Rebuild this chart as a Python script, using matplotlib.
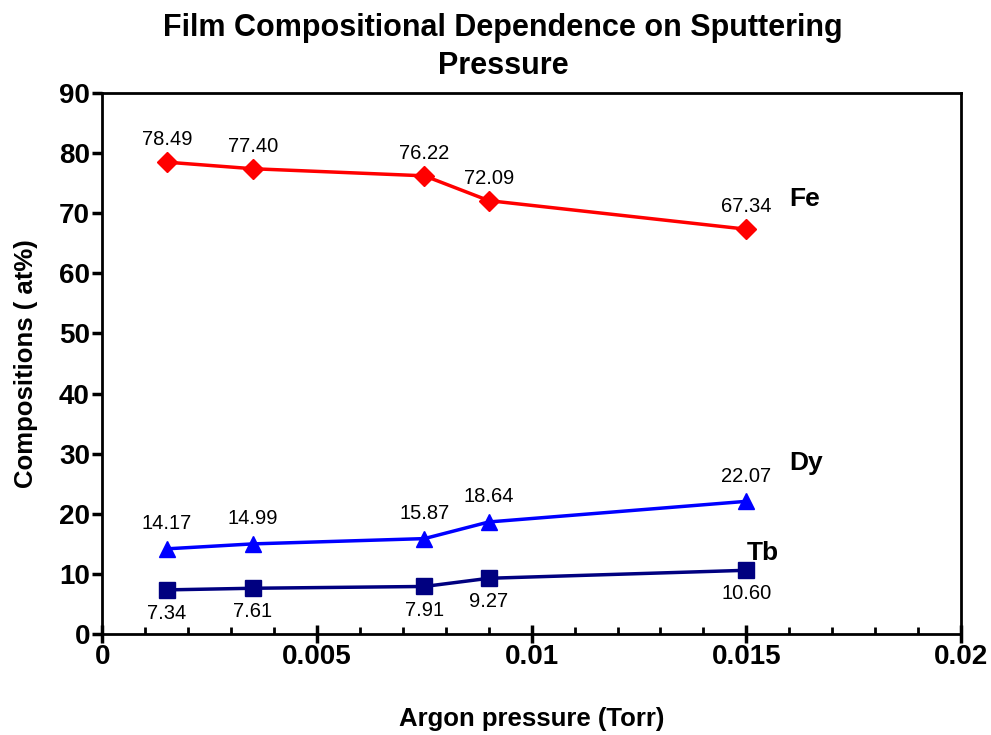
import numpy as np
import matplotlib.pyplot as plt
from matplotlib.ticker import MultipleLocator

plt.rcParams['font.family'] = ['Liberation Sans', 'DejaVu Sans']

# Argon pressure (Torr) and film composition (at%)
pressure = [0.0015, 0.0035, 0.0075, 0.009, 0.015]
fe = [78.49, 77.40, 76.22, 72.09, 67.34]
dy = [14.17, 14.99, 15.87, 18.64, 22.07]
tb = [7.34, 7.61, 7.91, 9.27, 10.60]

fig = plt.figure(figsize=(9.91, 7.35), dpi=100)
ax = fig.add_axes([0.1034, 0.1374, 0.8663, 0.7361])

ax.plot(pressure, fe, color='#FF0000', lw=2.5, marker='D', ms=10, mew=1, mec='#FF0000')
ax.plot(pressure, dy, color='#0000FF', lw=2.5, marker='^', ms=12, mew=1, mec='#0000FF')
ax.plot(pressure, tb, color='#000080', lw=2.5, marker='s', ms=11, mew=1, mec='#000080')

# value labels: Fe and Dy above the points, Tb below
for x, y in zip(pressure, fe):
    ax.annotate(f'{y:.2f}', (x, y), xytext=(0, 16), textcoords='offset points',
                ha='center', va='center', fontsize=14.5)
for x, y in zip(pressure, dy):
    ax.annotate(f'{y:.2f}', (x, y), xytext=(0, 18), textcoords='offset points',
                ha='center', va='center', fontsize=14.5)
for x, y in zip(pressure, tb):
    ax.annotate(f'{y:.2f}', (x, y), xytext=(0, -17), textcoords='offset points',
                ha='center', va='center', fontsize=14.5)

# series names
ax.text(0.0160, 72.3, 'Fe', fontsize=19, fontweight='bold', va='center')
ax.text(0.0160, 28.4, 'Dy', fontsize=19, fontweight='bold', va='center')
ax.text(0.01502, 13.5, 'Tb', fontsize=19, fontweight='bold', va='center')

ax.set_xlim(0, 0.02)
ax.set_ylim(0, 90)
ax.xaxis.set_minor_locator(MultipleLocator(0.001))
ax.yaxis.set_major_locator(MultipleLocator(10))
ax.set_xticks([0, 0.005, 0.01, 0.015, 0.02])
ax.set_xticklabels(['0', '0.005', '0.01', '0.015', '0.02'])

for s in ax.spines.values():
    s.set_linewidth(2)
ax.tick_params(axis='x', which='major', direction='inout', length=13, width=2.5, pad=1)
ax.tick_params(axis='x', which='minor', direction='in', length=5, width=2)
ax.tick_params(axis='y', which='major', direction='out', length=7, width=2.5, pad=2)
for lab in ax.get_xticklabels() + ax.get_yticklabels():
    lab.set_fontsize(20)
    lab.set_fontweight('bold')

ax.set_xlabel('Argon pressure (Torr)', fontsize=18.5, fontweight='bold', labelpad=26)
ax.set_ylabel('Compositions ( at%)', fontsize=18.5, fontweight='bold', labelpad=15)

fig.text(0.5076, 0.982, 'Film Compositional Dependence on Sputtering\nPressure',
         ha='center', va='top', fontsize=22, fontweight='bold', linespacing=1.35)

fig.savefig('out.png', dpi=100)
